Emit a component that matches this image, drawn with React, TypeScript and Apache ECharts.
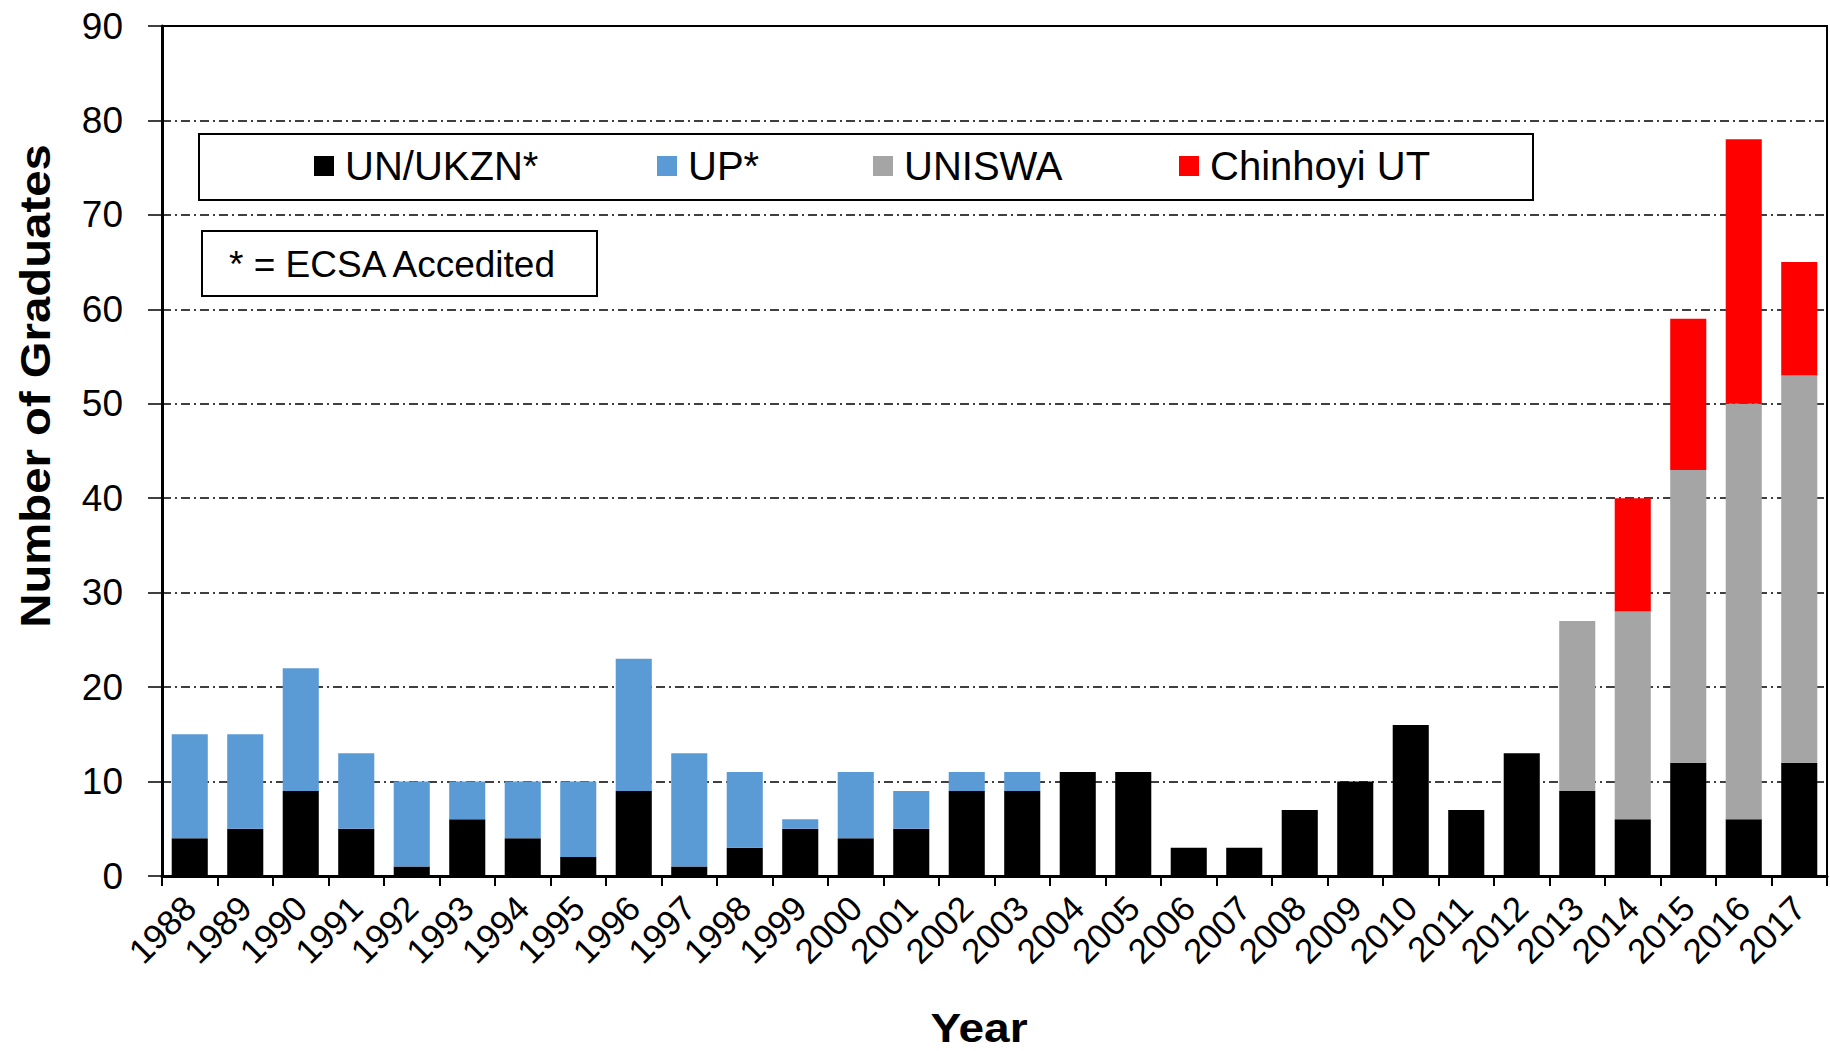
import React, { useEffect, useRef } from "react";
import * as echarts from "echarts";

const years = [
  "1988", "1989", "1990", "1991", "1992", "1993", "1994", "1995", "1996", "1997",
  "1998", "1999", "2000", "2001", "2002", "2003", "2004", "2005", "2006", "2007",
  "2008", "2009", "2010", "2011", "2012", "2013", "2014", "2015", "2016", "2017",
];
const unUkzn = [4, 5, 9, 5, 1, 6, 4, 2, 9, 1, 3, 5, 4, 5, 9, 9, 11, 11, 3, 3, 7, 10, 16, 7, 13, 9, 6, 12, 6, 12];
const up = [11, 10, 13, 8, 9, 4, 6, 8, 14, 12, 8, 1, 7, 4, 2, 2, 0, 0, 0, 0, 0, 0, 0, 0, 0, 0, 0, 0, 0, 0];
const uniswa = [0, 0, 0, 0, 0, 0, 0, 0, 0, 0, 0, 0, 0, 0, 0, 0, 0, 0, 0, 0, 0, 0, 0, 0, 0, 18, 22, 31, 44, 41];
const chinhoyi = [0, 0, 0, 0, 0, 0, 0, 0, 0, 0, 0, 0, 0, 0, 0, 0, 0, 0, 0, 0, 0, 0, 0, 0, 0, 0, 12, 16, 28, 12];

const seriesNames = ["UN/UKZN*", "UP*", "UNISWA", "Chinhoyi UT"];
const seriesColors = ["#000000", "#5B9BD5", "#A5A5A5", "#FF0000"];
const seriesData = [unUkzn, up, uniswa, chinhoyi];
const legendLefts = [314, 657, 873, 1179];

const FONT = "'Liberation Sans', Arial, sans-serif";

export default function App() {
  const ref = useRef<HTMLDivElement>(null);
  useEffect(() => {
    if (!ref.current) return;
    const chart = echarts.init(ref.current, null, { renderer: "svg" });
    const legendBase = {
      orient: "horizontal",
      icon: "rect",
      itemWidth: 20,
      itemHeight: 20,
      padding: 0,
      top: 146,
      selectedMode: false,
      textStyle: { fontSize: 40, lineHeight: 40, color: "#000", fontFamily: FONT, padding: [0, 0, 0, 6] },
    };
    chart.setOption({
      animation: false,
      backgroundColor: "#fff",
      textStyle: { fontFamily: FONT },
      grid: { left: 162, right: 3, top: 26, bottom: 175, show: true, borderColor: "#000", borderWidth: 2 },
      legend: seriesNames.map((n, i) => ({ ...legendBase, data: [n], left: legendLefts[i] })),
      xAxis: {
        type: "category",
        data: years,
        boundaryGap: true,
        axisLine: { lineStyle: { color: "#000", width: 3 } },
        axisTick: { show: true, length: 10, lineStyle: { color: "#000", width: 2 } },
        axisLabel: { rotate: 45, fontSize: 35, color: "#000", fontFamily: FONT, margin: 26, interval: 0 },
      },
      yAxis: {
        type: "value",
        min: 0,
        max: 90,
        interval: 10,
        axisLine: { show: true, lineStyle: { color: "#000", width: 3 } },
        axisTick: { show: true, length: 14, lineStyle: { color: "#000", width: 1.5 } },
        axisLabel: { fontSize: 37, color: "#000", fontFamily: FONT, margin: 39 },
        splitLine: { show: true, lineStyle: { color: "#000", width: 1.5, type: [9, 4, 2, 4] } },
      },
      series: seriesNames.map((n, i) => ({
        name: n,
        type: "bar",
        stack: "total",
        data: seriesData[i],
        barCategoryGap: "35%",
        itemStyle: { color: seriesColors[i] },
      })),
      graphic: [
        { type: "rect", z: 0, shape: { x: 199, y: 134, width: 1334, height: 66 }, style: { fill: "transparent", stroke: "#000", lineWidth: 2 } },
        { type: "rect", z: 0, shape: { x: 202, y: 231, width: 395, height: 65 }, style: { fill: "transparent", stroke: "#000", lineWidth: 2 } },
        { type: "text", x: 229, y: 264, style: { text: "* = ECSA Accedited", fontSize: 37, fontFamily: FONT, fill: "#000", align: "left", verticalAlign: "middle" } },
        { type: "text", x: 35, y: 386, rotation: Math.PI / 2, scaleX: 1.1, style: { text: "Number of Graduates", fontSize: 43, fontWeight: "bold", fontFamily: FONT, fill: "#000", align: "center", verticalAlign: "middle" } },
        { type: "text", x: 979, y: 1028, scaleX: 1.15, style: { text: "Year", fontSize: 40, fontWeight: "bold", fontFamily: FONT, fill: "#000", align: "center", verticalAlign: "middle" } },
      ],
    });
    return () => chart.dispose();
  }, []);
  return <div ref={ref} style={{ position: "absolute", left: 0, top: 0, width: 1830, height: 1051 }} />;
}
